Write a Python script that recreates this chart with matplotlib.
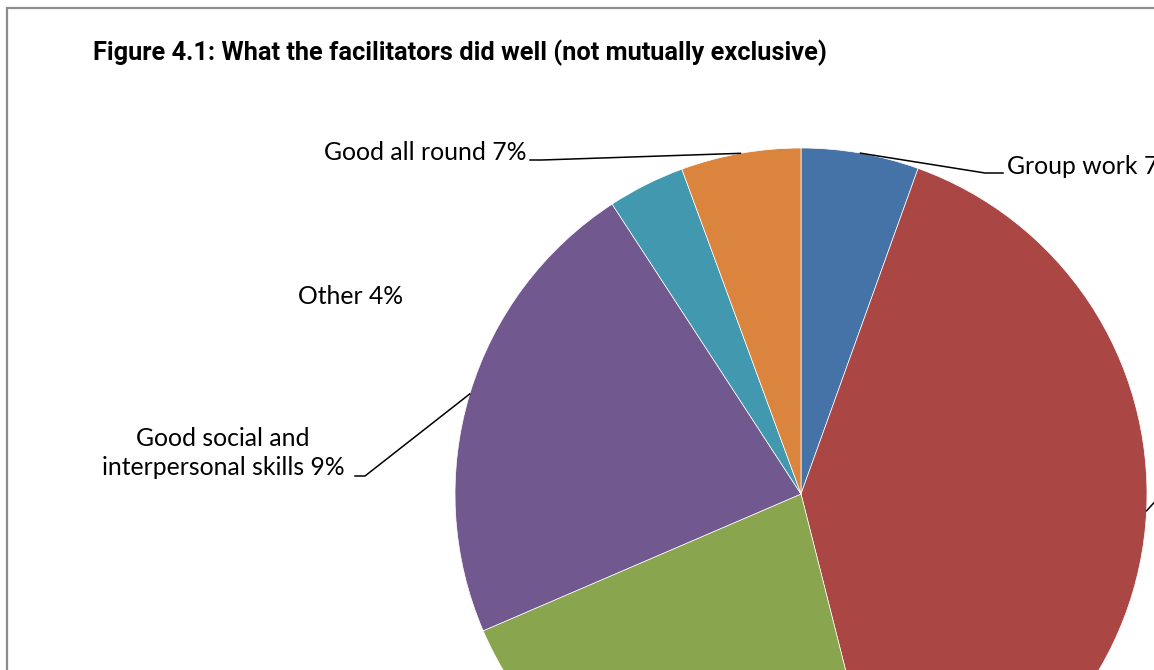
import matplotlib.pyplot as plt
import matplotlib.patches as mpatches
import numpy as np

# slice shares (share of the pie) and the percentages printed on the labels
categories = ['Group work', '', '', 'Good social and\ninterpersonal skills', 'Other', 'Good all round']
shares = [5.5, 40.6, 22.5, 22.3, 3.6, 5.6]
label_pcts = [7, None, None, 9, 4, 7]
colors = ['#4572A7', '#AA4643', '#89A54E', '#71588F', '#4198AF', '#DB843D']

title = 'Figure 4.1: What the facilitators did well (not mutually exclusive)'

W, H = 1154, 670
fig = plt.figure(figsize=(W / 100, H / 100), dpi=100)
ax = fig.add_axes([0, 0, 1, 1])

cx, cy, r = 801, H - 494, 346
wedges, _ = ax.pie(shares, colors=colors, startangle=90, counterclock=False,
                   center=(cx, cy), radius=r,
                   wedgeprops=dict(linewidth=0.5, edgecolor='white'))
ax.set_xlim(0, W)
ax.set_ylim(0, H)
ax.set_aspect('equal')
ax.axis('off')

# chart area frame (runs off the right and bottom edges)
fig.patches.append(mpatches.Rectangle((7 / W, -0.1), 1.2, 1 - 8 / H + 0.1,
                                      transform=fig.transFigure, fill=False,
                                      edgecolor='#8c8c8c', linewidth=1.6))

fig.text(93 / W, 1 - 53 / H, title, fontsize=18.3, fontweight='bold',
         family=['Roboto', 'DejaVu Sans'], va='center', ha='left')

lab_font = dict(family=['Lato', 'DejaVu Sans'], fontsize=17.8, color='black')

# leader line elbows, line ends and text anchors per slice
leaders = {
    0: dict(elbow=(985, H - 173), end=(1003, H - 173), text=(1007, H - 166), ha='left'),
    1: dict(elbow=(1170, H - 485), end=(1180, H - 485), text=None, ha='left'),
    3: dict(elbow=(365, H - 476), end=(355, H - 476), text=(223, H - 453), ha='center'),
    4: dict(elbow=None, end=None, text=(351, H - 296), ha='center'),
    5: dict(elbow=(542, H - 160), end=(530, H - 160), text=(527, H - 153), ha='right'),
}

for i, cfg in leaders.items():
    w = wedges[i]
    mid = np.deg2rad((w.theta1 + w.theta2) / 2)
    px, py = cx + r * np.cos(mid), cy + r * np.sin(mid)
    if cfg['elbow'] is not None:
        ax.plot([px, cfg['elbow'][0], cfg['end'][0]],
                [py, cfg['elbow'][1], cfg['end'][1]],
                color='black', linewidth=1.1, clip_on=True)
    if cfg['text'] is not None:
        ax.text(cfg['text'][0], cfg['text'][1], f'{categories[i]} {label_pcts[i]}%',
                ha=cfg['ha'], va='center', multialignment='center',
                linespacing=1.3, **lab_font)

fig.savefig('out.png', dpi=100, facecolor='white')
